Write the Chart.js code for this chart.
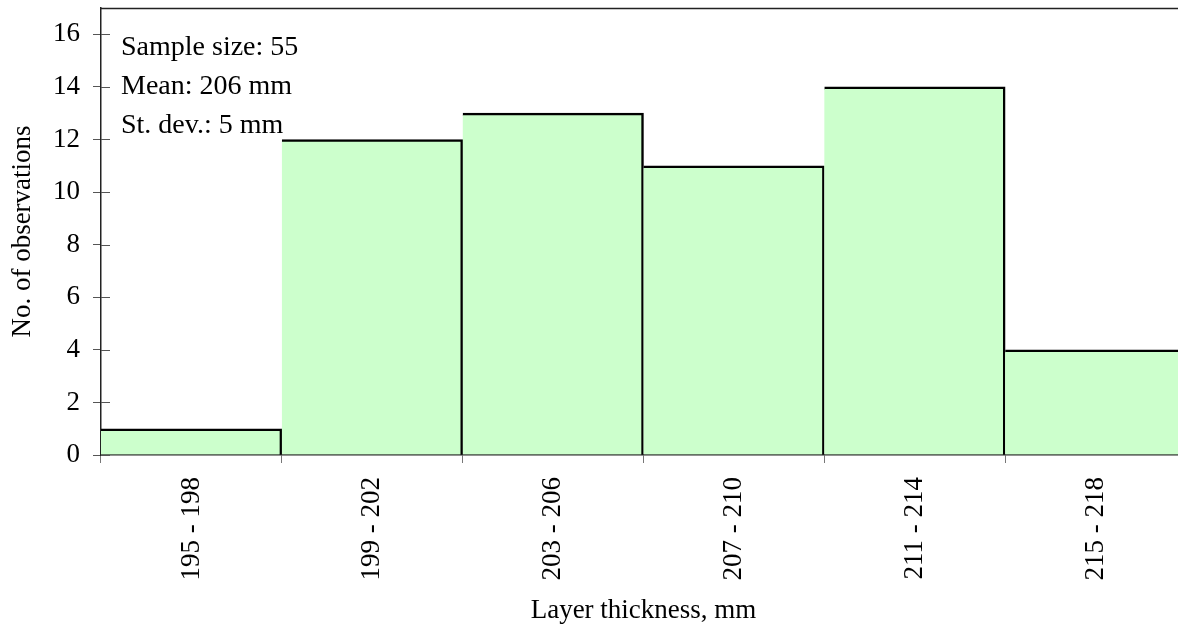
<!DOCTYPE html>
<html>
<head>
<meta charset="utf-8">
<script src="https://cdn.jsdelivr.net/npm/chart.js@4/dist/chart.umd.min.js"></script>
<style>
  html, body { margin: 0; padding: 0; background: #fff; overflow: hidden; }
  #wrap { position: absolute; left: 0; top: 0; width: 1186px; height: 628px; }
</style>
</head>
<body>
<div id="wrap"><canvas id="chart"></canvas></div>
<script>
// histogram of layer thickness
const classes = ['195 - 198', '199 - 202', '203 - 206', '207 - 210', '211 - 214', '215 - 218'];
const counts = [1, 12, 13, 11, 14, 4];
const statLines = ['Sample size: 55', 'Mean: 206 mm', 'St. dev.: 5 mm'];

const serif = "'Liberation Serif', 'Times New Roman', serif";

// frame top line, inner y ticks and the stats box
const extras = {
  id: 'extras',
  afterDraw(chart) {
    const { ctx, chartArea } = chart;
    const y = chart.scales.y;
    ctx.save();
    ctx.strokeStyle = '#222';
    ctx.lineWidth = 1.5;
    ctx.beginPath();
    ctx.moveTo(chartArea.left, chartArea.top + 0.5);
    ctx.lineTo(chartArea.right, chartArea.top + 0.5);
    ctx.stroke();

    ctx.strokeStyle = '#555';
    ctx.lineWidth = 1;
    y.ticks.forEach(t => {
      const py = Math.round(y.getPixelForValue(t.value)) + 0.5;
      ctx.beginPath();
      ctx.moveTo(chartArea.left, py);
      ctx.lineTo(chartArea.left + 9, py);
      ctx.stroke();
    });

    ctx.fillStyle = '#000';
    ctx.font = '28px ' + serif;
    ctx.textBaseline = 'alphabetic';
    statLines.forEach((s, i) => {
      ctx.fillText(s, chartArea.left + 20, chartArea.top + 47 + i * 39);
    });
    ctx.restore();
  }
};

new Chart(document.getElementById('chart').getContext('2d'), {
  type: 'bar',
  data: {
    labels: classes,
    datasets: [
      {
        data: counts,
        backgroundColor: '#CCFFCC',
        borderColor: '#000',
        borderWidth: { top: 2.5, right: 2.5, left: 0, bottom: 0 },
        borderSkipped: false,
        barPercentage: 1,
        categoryPercentage: 1
      }
    ]
  },
  options: {
    responsive: true,
    maintainAspectRatio: false,
    animation: false,
    layout: { padding: { top: 8, right: 0, left: 0, bottom: 0 } },
    plugins: { legend: { display: false }, tooltip: { enabled: false } },
    scales: {
      x: {
        offset: true,
        grid: { offset: true, drawOnChartArea: false, tickLength: 8, color: '#777' },
        border: { color: '#222', width: 1.5 },
        ticks: { minRotation: 90, maxRotation: 90, padding: 14, color: '#000', font: { family: serif, size: 27 } },
        title: { display: true, text: 'Layer thickness, mm', color: '#000', font: { family: serif, size: 27 }, padding: { top: 0, bottom: 1 } },
        afterFit(scale) {
          scale.height = 173;
          scale.paddingLeft = 0;
          scale.paddingRight = 0;
        }
      },
      y: {
        min: 0,
        max: 17,
        grid: { drawOnChartArea: false, tickLength: 8, color: '#555' },
        border: { color: '#222', width: 1.5 },
        ticks: { stepSize: 2, includeBounds: false, padding: 13, color: '#000', font: { family: serif, size: 27 } },
        title: { display: true, text: 'No. of observations', color: '#000', font: { family: serif, size: 27 }, padding: { top: 7, bottom: 0 } },
        afterFit(scale) {
          scale.width = 101;
          scale.paddingTop = 0;
          scale.paddingBottom = 0;
        }
      }
    }
  },
  plugins: [extras]
});
</script>
</body>
</html>
